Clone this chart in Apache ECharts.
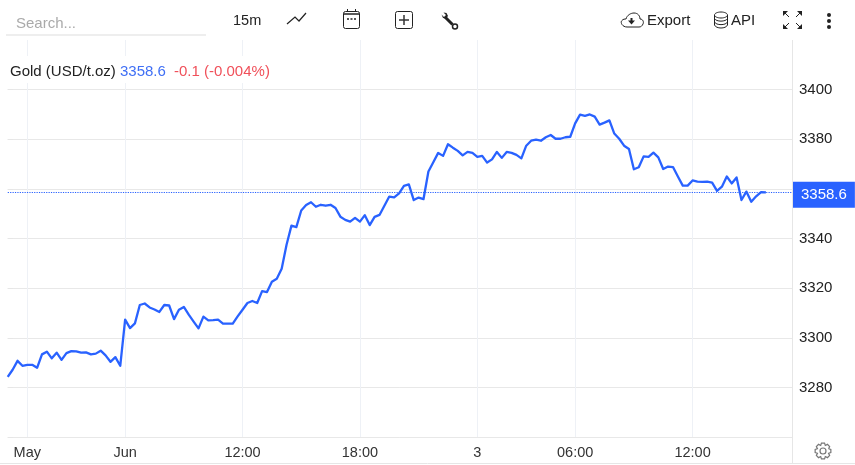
<!DOCTYPE html>
<html>
<head>
<meta charset="utf-8">
<title>Gold (USD/t.oz)</title>
<script src="https://cdn.jsdelivr.net/npm/echarts@6/dist/echarts.min.js"></script>
<style>
  html, body { margin: 0; padding: 0; background: #fff; }
  #chart { width: 855px; height: 465px; }
</style>
</head>
<body>
<div id="chart"></div>
<script>
// 15 minute closes
const prices = [
  3284.2, 3287.1, 3290.7, 3288.7, 3289.1, 3289.1, 3287.9, 3293.3, 3294.4, 3291.7,
  3294.0, 3291.1, 3293.8, 3294.6, 3294.5, 3294.0, 3294.1, 3293.3, 3293.6, 3294.8,
  3292.9, 3290.3, 3292.2, 3288.7, 3307.3, 3303.9, 3305.8, 3313.2, 3313.8, 3312.2,
  3311.4, 3310.4, 3313.2, 3313.0, 3307.5, 3311.3, 3312.4, 3309.3, 3306.5, 3303.8,
  3308.5, 3307.0, 3307.1, 3307.3, 3305.7, 3305.7, 3305.7, 3308.6, 3311.3, 3314.0,
  3314.8, 3314.0, 3318.8, 3318.4, 3322.6, 3323.8, 3327.8, 3337.5, 3345.2, 3344.6,
  3351.3, 3353.5, 3354.6, 3352.8, 3353.6, 3353.2, 3353.6, 3352.3, 3348.8, 3347.5,
  3346.8, 3348.3, 3346.8, 3349.4, 3345.4, 3348.7, 3349.5, 3353.2, 3356.9, 3356.6,
  3358.2, 3361.2, 3361.8, 3355.5, 3356.5, 3355.9, 3367.0, 3370.7, 3374.5, 3373.3,
  3378.0, 3376.6, 3375.3, 3373.5, 3374.9, 3374.5, 3372.9, 3373.3, 3370.6, 3371.9,
  3374.9, 3372.5, 3374.9, 3374.5, 3373.7, 3372.3, 3377.4, 3379.4, 3379.8, 3379.4,
  3380.8, 3381.7, 3380.2, 3380.2, 3380.8, 3381.0, 3386.4, 3389.9, 3389.4, 3390.0,
  3389.1, 3385.9, 3386.7, 3387.6, 3382.3, 3380.2, 3377.4, 3376.1, 3367.9, 3368.7,
  3373.1, 3372.9, 3374.6, 3372.7, 3368.0, 3369.0, 3368.8, 3365.0, 3361.3, 3361.3,
  3363.4, 3362.9, 3362.8, 3362.9, 3362.5, 3359.2, 3360.9, 3365.0, 3362.2, 3364.6,
  3355.5, 3358.9, 3354.8, 3357.0, 3358.7, 3358.6
];
const xTickIndex = [4, 24, 48, 72, 96, 116, 140];
const xTickLabels = ['May', 'Jun', '12:00', '18:00', '3', '06:00', '12:00'];
const yTicks = [3260, 3280, 3300, 3320, 3340, 3360, 3380, 3400];
const yLabels = [3280, 3300, 3320, 3340, 3360, 3380, 3400];
const lastPrice = 3358.6;
const seriesName = 'Gold (USD/t.oz)';
const changeText = '-0.1 (-0.004%)';

const FONT = '"Liberation Sans", Arial, sans-serif';
const BLUE = '#2962ff';
const INK = '#222';

const lineEl = (x1, y1, x2, y2, stroke, lineWidth, lineDash) => ({
  type: 'line', silent: true,
  shape: { x1, y1, x2, y2 },
  style: { stroke: stroke || INK, lineWidth: lineWidth || 1, lineDash: lineDash || null }
});
const textEl = (x, y, text, fill, size) => ({
  type: 'text', silent: true, z: 20, x, y,
  style: { text, fill: fill || INK, font: (size || 15) + 'px ' + FONT, textVerticalAlign: 'middle' }
});
const rectEl = (x, y, width, height, r, stroke, lineWidth) => ({
  type: 'rect', silent: true,
  shape: { x, y, width, height, r },
  style: { fill: 'none', stroke: stroke || INK, lineWidth: lineWidth || 1 }
});
const circleEl = (cx, cy, r, fill, stroke, lineWidth) => ({
  type: 'circle', silent: true,
  shape: { cx, cy, r },
  style: { fill: fill || 'none', stroke: stroke || 'none', lineWidth: lineWidth || 1 }
});
const polyEl = (points, fill, stroke, lineWidth) => ({
  type: fill ? 'polygon' : 'polyline', silent: true,
  shape: { points },
  style: { fill: fill || 'none', stroke: stroke || (fill ? 'none' : INK), lineWidth: lineWidth || 1 }
});
const curveEl = (x1, y1, cpx1, cpy1, cpx2, cpy2, x2, y2) => ({
  type: 'bezierCurve', silent: true,
  shape: { x1, y1, cpx1, cpy1, cpx2, cpy2, x2, y2 },
  style: { fill: 'none', stroke: INK, lineWidth: 1 }
});

// gear outline for the settings button
function gearPoints(cx, cy, outer, inner, teeth) {
  const pts = [];
  for (let i = 0; i < teeth; i++) {
    const a = (i / teeth) * Math.PI * 2;
    const w = Math.PI / teeth;
    [[inner, -w], [outer, -w * 0.5], [outer, w * 0.5], [inner, w]].forEach(([r, d]) => {
      pts.push([cx + r * Math.cos(a + d), cy + r * Math.sin(a + d)]);
    });
  }
  pts.push(pts[0]);
  return pts;
}

const toolbar = [
  textEl(16, 24, 'Search...', '#aaa', 15),
  lineEl(6, 35, 206, 35, '#ddd'),
  textEl(233, 21, '15m', INK, 14.5),
  polyEl([[287, 24], [295, 17], [299, 21], [306, 13]], null, INK, 1.2),
  // calendar
  rectEl(343.5, 11.5, 16, 17, 2),
  lineEl(343.5, 14, 359.5, 14, INK, 1.5),
  lineEl(347.5, 9, 347.5, 11),
  lineEl(355.5, 9, 355.5, 11),
  lineEl(347, 19, 356, 19, INK, 1.5, [2, 1.5]),
  // add indicator
  rectEl(395.5, 11.5, 17, 17, 2),
  lineEl(399, 20, 409, 20, '#333', 1.5),
  lineEl(404, 15, 404, 25, '#333', 1.5),
  // wrench
  lineEl(445, 17, 452.5, 24.5, INK, 3),
  polyEl([[441.5, 14.5], [444, 17], [446, 15], [443.5, 12.5], [446.5, 13], [448, 16], [446, 18.5], [443, 18]], INK),
  circleEl(455, 26.5, 2.5, '#fff', INK, 1.5),
  // export
  curveEl(627, 27, 622, 27, 620, 22, 622, 20.5),
  curveEl(622, 20.5, 623, 19, 625, 19, 626, 19),
  curveEl(626, 19, 627, 15, 631, 13, 634, 13),
  curveEl(634, 13, 638, 13, 640, 16, 640, 19),
  curveEl(640, 19, 643, 19, 644, 22, 643, 24),
  curveEl(643, 24, 642, 26, 641, 27, 639, 27),
  lineEl(627, 27, 639, 27),
  polyEl([[628, 20.5], [635, 20.5], [631.5, 24.5]], INK),
  lineEl(631.5, 18, 631.5, 21, INK, 2),
  textEl(647, 21, 'Export', INK, 15),
  // api
  { type: 'ellipse', silent: true, shape: { cx: 721, cy: 15, rx: 6.5, ry: 3 }, style: { fill: 'none', stroke: INK, lineWidth: 1 } },
  lineEl(714.5, 15, 714.5, 25),
  lineEl(727.5, 15, 727.5, 25),
  curveEl(714.5, 18.5, 716, 22, 726, 22, 727.5, 18.5),
  curveEl(714.5, 22, 716, 25.5, 726, 25.5, 727.5, 22),
  curveEl(714.5, 25, 716, 29, 726, 29, 727.5, 25),
  textEl(731, 21, 'API', INK, 15),
  // fullscreen
  polyEl([[783, 11], [788, 11], [783, 16]], INK), lineEl(785, 13, 789, 17),
  polyEl([[802, 11], [797, 11], [802, 16]], INK), lineEl(800, 13, 796, 17),
  polyEl([[783, 29], [788, 29], [783, 24]], INK), lineEl(785, 27, 789, 23),
  polyEl([[802, 29], [797, 29], [802, 24]], INK), lineEl(800, 27, 796, 23),
  // more
  circleEl(829, 15, 2, INK), circleEl(829, 21, 2, INK), circleEl(829, 27, 2, INK)
];

const legend = [
  { type: 'rect', silent: true, z: 10, shape: { x: 8, y: 56, width: 264, height: 27 }, style: { fill: '#fff' } },
  textEl(10, 72, seriesName, INK, 15),
  textEl(120, 72, lastPrice.toFixed(1), '#3f6ff5', 15),
  textEl(174, 72, changeText, '#f0505a', 15)
];

const frame = [
  lineEl(792.5, 40, 792.5, 463, '#e6e6e6'),
  lineEl(0, 463.5, 855, 463.5, '#e6e6e6'),
  polyEl(gearPoints(823, 451, 8, 6, 8), null, '#777', 1.2),
  circleEl(823, 451, 3, 'none', '#777', 1.2)
];

const chart = echarts.init(document.getElementById('chart'));
chart.setOption({
  animation: false,
  backgroundColor: '#fff',
  textStyle: { fontFamily: FONT },
  grid: { left: 7.74, right: 63, top: 40, bottom: 28, containLabel: false },
  xAxis: {
    type: 'value',
    min: 0,
    max: 160.33,
    axisLine: { show: false },
    axisTick: { show: false, customValues: xTickIndex },
    splitLine: { show: true, lineStyle: { color: '#eef1f6', width: 1 } },
    axisLabel: {
      customValues: xTickIndex,
      color: '#333',
      fontSize: 14.5,
      fontFamily: FONT,
      margin: 8,
      formatter: (v) => xTickLabels[xTickIndex.indexOf(v)]
    }
  },
  yAxis: {
    type: 'value',
    position: 'right',
    min: 3260,
    max: 3420,
    axisLine: { show: false },
    axisTick: { show: true, length: 5, customValues: yTicks, lineStyle: { color: '#e6e6e6' } },
    splitLine: { show: true, lineStyle: { color: '#e8e8e8', width: 1 } },
    axisLabel: {
      customValues: yLabels,
      color: '#222',
      fontSize: 15,
      fontFamily: FONT,
      margin: 7,
      formatter: (v) => String(v)
    }
  },
  series: [{
    name: seriesName,
    type: 'line',
    data: prices.map((p, i) => [i, p]),
    showSymbol: false,
    silent: true,
    z: 5,
    lineStyle: { color: BLUE, width: 2.3, join: 'round' },
    markLine: {
      silent: true,
      symbol: 'none',
      animation: false,
      lineStyle: { color: BLUE, type: 'dotted', width: 1.2 },
      label: {
        show: true,
        position: 'end',
        distance: 1,
        offset: [0, 2.5],
        formatter: lastPrice.toFixed(1),
        color: '#fff',
        fontSize: 15,
        fontFamily: FONT,
        backgroundColor: BLUE,
        padding: [6, 8, 5, 8]
      },
      data: [{ yAxis: lastPrice }]
    }
  }],
  graphic: { elements: [...toolbar, ...legend, ...frame] }
});
window.addEventListener('resize', () => chart.resize());
</script>
</body>
</html>
